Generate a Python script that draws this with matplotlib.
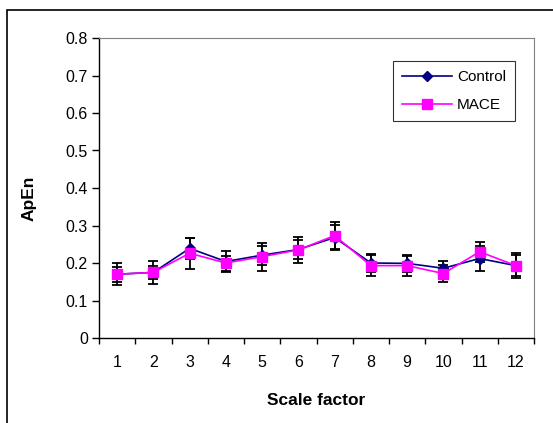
import matplotlib
matplotlib.use("Agg")
import matplotlib.pyplot as plt
import numpy as np
from matplotlib.patches import Rectangle

plt.rcParams['font.family'] = ['Liberation Sans', 'DejaVu Sans']

scale_factor = [1, 2, 3, 4, 5, 6, 7, 8, 9, 10, 11, 12]
control = [0.170, 0.175, 0.239, 0.204, 0.221, 0.236, 0.268, 0.200, 0.199, 0.186, 0.212, 0.193]
control_err = [0.029, 0.031, 0.029, 0.027, 0.025, 0.025, 0.032, 0.023, 0.022, 0.020, 0.033, 0.033]
mace = [0.170, 0.175, 0.226, 0.200, 0.217, 0.235, 0.273, 0.193, 0.193, 0.172, 0.230, 0.193]
mace_err = [0.020, 0.018, 0.042, 0.020, 0.037, 0.035, 0.035, 0.028, 0.027, 0.023, 0.027, 0.028]
yticks = [0, 0.1, 0.2, 0.3, 0.4, 0.5, 0.6, 0.7, 0.8]

fig = plt.figure(figsize=(5.53, 4.23), dpi=100)
ax = fig.add_axes([99/553, 1-338/423, 435/553, 300/423])

x = np.array(scale_factor)
ax.errorbar(x, control, yerr=control_err, fmt='none', ecolor='black', elinewidth=1.3, capsize=3.8, capthick=1.3, zorder=2)
ax.errorbar(x, mace, yerr=mace_err, fmt='none', ecolor='black', elinewidth=1.3, capsize=3.8, capthick=1.3, zorder=2)
ax.plot(x, control, color='#000080', lw=1.2, marker='D', markersize=5, label='Control', zorder=3)
ax.plot(x, mace, color='#FF00FF', lw=1.2, marker='s', markersize=6.5, label='MACE', zorder=4)

ax.set_xlim(0.5, 12.5)
ax.set_ylim(0, 0.8)
ax.set_yticks(yticks)
ax.set_yticklabels(['0' if v == 0 else f'{v:.1f}' for v in yticks], fontsize=11.5)
ax.set_xticks(np.arange(0.5, 13, 1))
ax.set_xticklabels([])
ax.set_xticks(x, minor=True)
ax.set_xticklabels([str(v) for v in scale_factor], minor=True, fontsize=11.5)
ax.tick_params(axis='x', which='minor', length=0, pad=12)
ax.tick_params(axis='x', which='major', direction='out', length=4, width=1)
ax.tick_params(axis='y', direction='out', length=5, width=1, pad=3)

for s in ['top', 'right']:
    ax.spines[s].set_color('#808080')
    ax.spines[s].set_linewidth(0.8)
for s in ['left', 'bottom']:
    ax.spines[s].set_color('black')
    ax.spines[s].set_linewidth(1.0)

ax.set_xlabel('Scale factor', fontsize=12.5, fontweight='bold', labelpad=17)
ax.set_ylabel('ApEn', fontsize=12.5, fontweight='bold')
ax.yaxis.set_label_coords(-0.143, 0.467)

leg = ax.legend(loc='upper right', bbox_to_anchor=(515/553, 1-61/423), bbox_transform=fig.transFigure,
                fontsize=11, frameon=True, fancybox=False, edgecolor='black', handlelength=3.3,
                borderpad=0.6, labelspacing=0.9, handletextpad=0.3, borderaxespad=0)
leg.get_frame().set_linewidth(0.8)

fig.patches.append(Rectangle((7/553, -0.1), 1.2, 1.1 - 10/423, transform=fig.transFigure,
                             fill=False, edgecolor='black', linewidth=1.2, clip_on=False))

fig.savefig('out.png', dpi=100)
